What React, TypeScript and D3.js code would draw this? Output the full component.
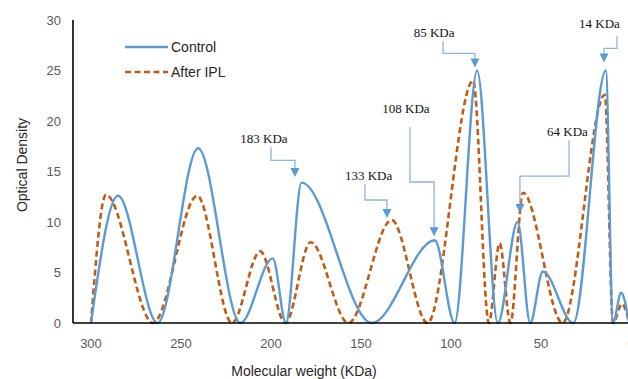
import React from "react";
import * as d3 from "d3";

// molecular weight (KDa) and optical density
const controlKDa = [300, 285, 263, 240.5, 217, 199, 191.7, 183, 144, 109, 98, 85.5, 74, 63, 56, 49, 32, 14, 10, 5.5, 1];
const controlOD = [0, 12.6, 0, 17.3, 0, 6.4, 0, 13.9, 0, 8.2, 0, 25, 0, 10, 0, 5.1, 0, 25, 0, 3, 0];

const iplKDa = [300, 291.7, 265.5, 241, 221.7, 206, 192, 178, 157, 133, 113, 87.7, 79, 73, 67, 60, 38, 14.5, 10, 5, 1];
const iplOD = [0, 12.7, 0, 12.6, 0, 7.1, 0, 8.0, 0, 10.2, 0, 24, 0, 7.9, 0, 12.9, 0, 22.6, 0, 1.9, 0];

const xTicks = [300, 250, 200, 150, 100, 50, 0];
const yTicks = [0, 5, 10, 15, 20, 25, 30];

// callouts: label anchor, stem, elbow and arrow tip in data units
const callouts = [
  { label: "183 KDa", textX: 203.9, textY: 17.8, stemX: 200, elbowY: 16.1, tipX: 186.7, tipY: 14.45 },
  { label: "133 KDa", textX: 145.8, textY: 14.16, stemX: 147.8, elbowY: 12.18, tipX: 135.6, tipY: 10.4 },
  { label: "108 KDa", textX: 125, textY: 20.8, stemX: 122.8, elbowY: 13.96, tipX: 109.4, tipY: 8.6, gap: 14 },
  { label: "85 KDa", textX: 109.4, textY: 28.3, stemX: 104.4, elbowY: 26.7, tipX: 86.7, tipY: 25.3 },
  { label: "14 KDa", textX: 17.5, textY: 29.2, stemX: 7.8, elbowY: 27.2, tipX: 15, tipY: 25.8, gap: 8 },
  { label: "64 KDa", textX: 35.3, textY: 18.5, stemX: 34.4, elbowY: 14.55, tipX: 61.7, tipY: 10.9 },
];

const width = 628;
const height = 379;
const margin = { top: 20, right: -3, bottom: 56, left: 91 };

const blue = "#5B9BD5";
const orange = "#C55A11";

export default function App() {
  const x = d3.scaleLinear().domain([300, 0]).range([margin.left, width - margin.right]);
  const y = d3.scaleLinear().domain([0, 30]).range([height - margin.bottom, margin.top]);
  const axisX = 73;

  const line = d3
    .line<[number, number]>()
    .x((d) => x(d[0]))
    .y((d) => y(d[1]))
    .curve(d3.curveMonotoneX);

  const control = controlKDa.map((k, i) => [k, controlOD[i]] as [number, number]);
  const ipl = iplKDa.map((k, i) => [k, iplOD[i]] as [number, number]);

  const sans = "'Liberation Sans', Arial, sans-serif";

  return (
    <svg
      width={width}
      height={height}
      style={{ position: "absolute", left: 0, top: 0, background: "#fff" }}
    >
      <defs>
        <clipPath id="plot">
          <rect x={axisX} y={0} width={width - axisX} height={y(0) + 4} />
        </clipPath>
      </defs>

      {yTicks.map((t) => (
        <text key={t} x={61} y={y(t)} dy="0.35em" textAnchor="end" fontFamily={sans} fontSize={13} fill="#595959">
          {t}
        </text>
      ))}
      {xTicks.map((t) => (
        <text key={t} x={x(t)} y={348} textAnchor="middle" fontFamily={sans} fontSize={13} fill="#595959">
          {t}
        </text>
      ))}

      <text x={304} y={376} textAnchor="middle" fontFamily={sans} fontSize={14} fill="#262626">
        Molecular weight (KDa)
      </text>
      <text
        transform={`translate(27,${165}) rotate(-90)`}
        textAnchor="middle"
        fontFamily={sans}
        fontSize={14}
        fill="#262626"
      >
        Optical Density
      </text>

      <g clipPath="url(#plot)">
        <path d={line(ipl) ?? ""} fill="none" stroke={orange} strokeWidth={2.6} strokeDasharray="6,3.5" />
        <path d={line(control) ?? ""} fill="none" stroke={blue} strokeWidth={2.4} />
      </g>

      <line x1={axisX} x2={width} y1={y(0)} y2={y(0)} stroke="#000" strokeWidth={1.6} />
      <line x1={axisX} x2={axisX} y1={y(30)} y2={y(0)} stroke="#000" strokeWidth={1.6} />

      {callouts.map((c) => {
        const sx = x(c.stemX);
        const sy = y(c.textY) + (c.gap ?? 4);
        const ey = y(c.elbowY);
        const tx = x(c.tipX);
        const ty = y(c.tipY);
        return (
          <g key={c.label}>
            <text x={x(c.textX)} y={y(c.textY)} textAnchor="middle" fontFamily="'Liberation Serif', serif" fontSize={13} fill="#111">
              {c.label}
            </text>
            <path
              d={`M${sx},${sy}V${ey}H${tx}V${ty - 8}`}
              fill="none"
              stroke="#8FB4DC"
              strokeWidth={1.3}
            />
            <path d={`M${tx - 4.5},${ty - 9}L${tx + 4.5},${ty - 9}L${tx},${ty}Z`} fill={blue} />
          </g>
        );
      })}

      <g fontFamily={sans} fontSize={14} fill="#262626">
        <line x1={125} x2={168} y1={47} y2={47} stroke={blue} strokeWidth={2.4} />
        <text x={171} y={47} dy="0.35em">Control</text>
        <line x1={125} x2={168} y1={72} y2={72} stroke={orange} strokeWidth={2.6} strokeDasharray="6,3.5" />
        <text x={171} y={72} dy="0.35em">After IPL</text>
      </g>
    </svg>
  );
}
